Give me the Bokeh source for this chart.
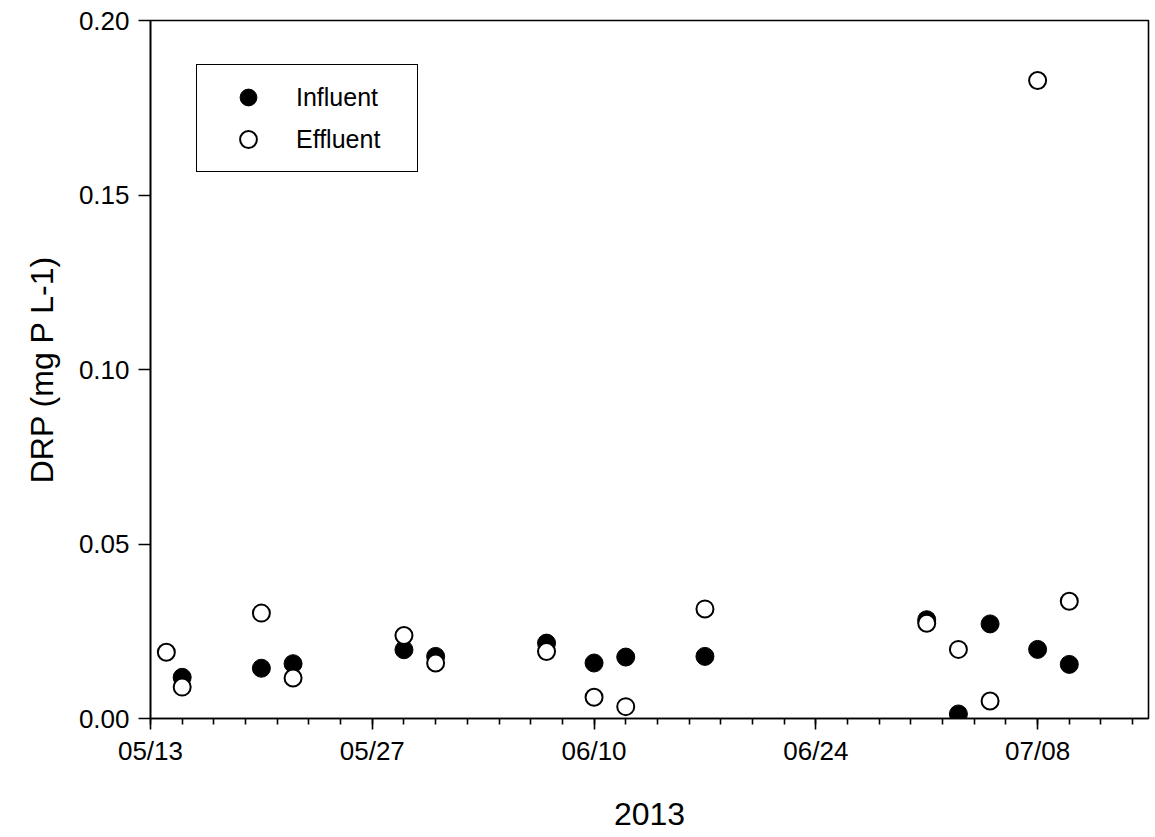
from datetime import datetime, timedelta
from bokeh.plotting import figure
from bokeh.models import (ColumnDataSource, FixedTicker, DatetimeTickFormatter,
                          NumeralTickFormatter, Legend, LegendItem, Range1d)
from bokeh.embed import file_html
from bokeh.resources import INLINE

# ---- data ----
influent_dates = ["2013-05-15", "2013-05-20", "2013-05-22", "2013-05-29", "2013-05-31",
                  "2013-06-07", "2013-06-10", "2013-06-12", "2013-06-17", "2013-07-01",
                  "2013-07-03", "2013-07-05", "2013-07-08", "2013-07-10"]
influent_drp = [0.0118, 0.0144, 0.0157, 0.0197, 0.0178,
                0.0216, 0.0159, 0.0176, 0.0178, 0.0283,
                0.0013, 0.0271, 0.0198, 0.0155]

effluent_dates = ["2013-05-14", "2013-05-15", "2013-05-20", "2013-05-22", "2013-05-29",
                  "2013-05-31", "2013-06-07", "2013-06-10", "2013-06-12", "2013-06-17",
                  "2013-07-01", "2013-07-03", "2013-07-05", "2013-07-08", "2013-07-10"]
effluent_drp = [0.0190, 0.0090, 0.0302, 0.0116, 0.0238,
                0.0159, 0.0192, 0.0061, 0.0034, 0.0314,
                0.0273, 0.0198, 0.0050, 0.1828, 0.0336]

major_tick_labels = ["2013-05-13", "2013-05-27", "2013-06-10", "2013-06-24", "2013-07-08"]
y_ticks = [0.00, 0.05, 0.10, 0.15, 0.20]
x_start, x_end = "2013-05-13", "2013-07-15"

FONT = "Liberation Sans"

def to_dt(s):
    return datetime.strptime(s, "%Y-%m-%d")

def to_ms(d):
    return (d - datetime(1970, 1, 1)).total_seconds() * 1000.0

src_in = ColumnDataSource(dict(x=[to_dt(d) for d in influent_dates], y=influent_drp))
src_out = ColumnDataSource(dict(x=[to_dt(d) for d in effluent_dates], y=effluent_drp))

p = figure(frame_width=998, frame_height=698, x_axis_type="datetime",
           output_backend="svg", toolbar_location=None,
           min_border_left=150, min_border_top=20, min_border_right=5, min_border_bottom=118,
           x_range=Range1d(to_dt(x_start), to_dt(x_end)), y_range=Range1d(0, 0.20))

p.xgrid.visible = False
p.ygrid.visible = False
p.outline_line_color = "black"
p.outline_line_width = 1.6
p.outline_line_alpha = 1
p.background_fill_color = "white"
p.border_fill_color = "white"

r_in = p.scatter("x", "y", source=src_in, size=18, marker="circle",
                 fill_color="black", line_color="black", line_width=1)
r_out = p.scatter("x", "y", source=src_out, size=17, marker="circle",
                  fill_color="white", line_color="black", line_width=2)

# x axis
start = to_dt(x_start)
end = to_dt(x_end)
majors = [to_ms(to_dt(d)) for d in major_tick_labels]
minors = []
d = start
while d <= end:
    minors.append(to_ms(d))
    d += timedelta(days=2)
p.xaxis.ticker = FixedTicker(ticks=majors, minor_ticks=minors)
p.xaxis.formatter = DatetimeTickFormatter(days="%m/%d", months="%m/%d", hours="%m/%d")
p.xaxis.axis_label = "2013"

p.yaxis.ticker = FixedTicker(ticks=y_ticks, minor_ticks=[])
p.yaxis.formatter = NumeralTickFormatter(format="0.00")
p.yaxis.axis_label = "DRP (mg P L-1)"

for ax in (p.xaxis, p.yaxis):
    ax.axis_line_color = "black"
    ax.axis_line_width = 1.6
    ax.major_tick_line_color = "black"
    ax.major_tick_line_width = 1.6
    ax.minor_tick_line_color = "black"
    ax.minor_tick_line_width = 1.6
    ax.major_tick_in = 0
    ax.minor_tick_in = 0
    ax.major_label_text_font = FONT
    ax.major_label_text_font_size = "26px"
    ax.major_label_text_color = "black"
    ax.axis_label_text_font = FONT
    ax.axis_label_text_font_style = "normal"
    ax.axis_label_text_font_size = "32px"
    ax.axis_label_text_color = "black"

p.xaxis.major_tick_out = 11
p.xaxis.minor_tick_out = 6
p.xaxis.major_label_standoff = 6
p.xaxis.axis_label_standoff = 34
p.yaxis.major_tick_out = 12
p.yaxis.major_label_standoff = 9
p.yaxis.axis_label_standoff = 16

legend = Legend(items=[LegendItem(label="Influent", renderers=[r_in]),
                       LegendItem(label="Effluent", renderers=[r_out])],
                location=(46, 546))
legend.border_line_color = "black"
legend.border_line_width = 1.3
legend.border_line_alpha = 1
legend.background_fill_alpha = 1
legend.label_text_font = FONT
legend.label_text_font_size = "25px"
legend.label_text_color = "black"
legend.padding = 11
legend.spacing = 0
legend.glyph_width = 80
legend.glyph_height = 42
legend.label_height = 42
legend.label_width = 110
legend.label_standoff = 8
legend.margin = 0
p.add_layout(legend, "center")

open("out.html", "w").write(file_html(p, INLINE))
